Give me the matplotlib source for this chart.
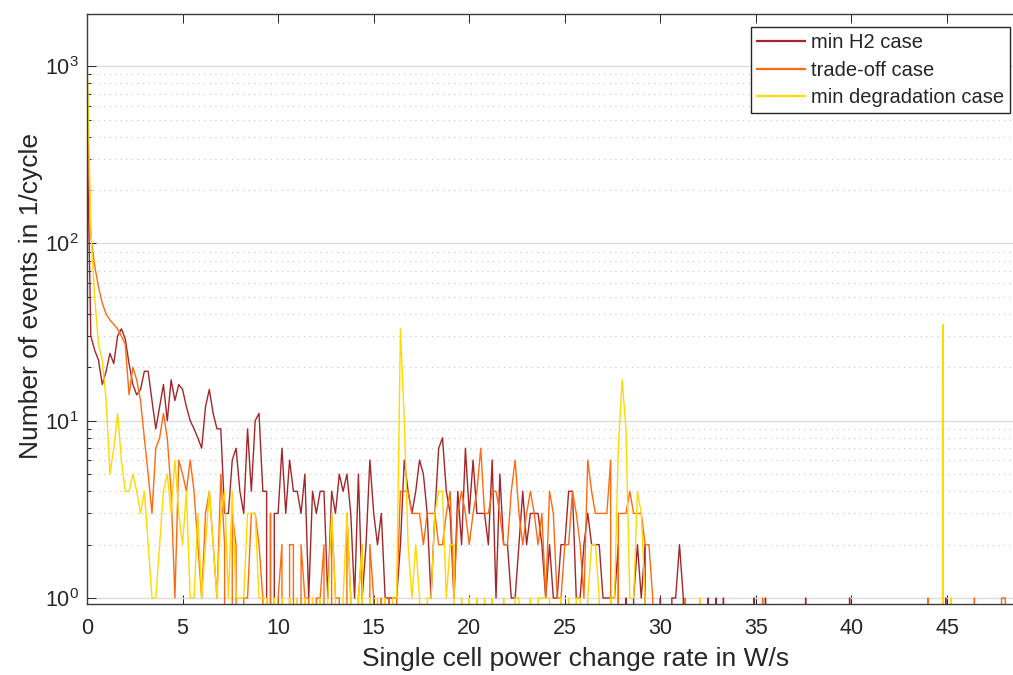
import matplotlib
matplotlib.use("Agg")
import matplotlib.pyplot as plt
from matplotlib.lines import Line2D
from matplotlib.ticker import LogLocator, MultipleLocator, NullFormatter
import numpy as np

# Histogram of single cell power change rates, one count per 0.2 W/s bin
# from 0 to 32 W/s; isolated events above that are listed separately.
BIN_WIDTH = 0.2

h2_counts = [
    480, 30, 25, 22, 16, 19, 24, 21, 30, 33,
    29, 21, 16, 14, 15, 19, 19, 13, 9, 12,
    16, 10, 17, 13, 16, 15, 12, 10, 9, 8,
    7, 12, 15, 11, 9, 9, 3, 3, 6, 7,
    4, 3, 9, 4, 10, 11, 4, 4, 0, 3,
    3, 7, 3, 6, 4, 4, 3, 5, 1, 4,
    3, 4, 4, 1, 4, 3, 5, 4, 5, 3,
    1, 5, 1, 2, 6, 3, 2, 3, 1, 1,
    1, 1, 2, 6, 4, 3, 4, 6, 5, 3,
    1, 3, 7, 8, 4, 3, 1, 4, 2, 7,
    3, 6, 3, 3, 3, 2, 6, 1, 5, 2,
    2, 1, 1, 2, 4, 2, 3, 3, 3, 2,
    1, 2, 1, 1, 2, 2, 4, 4, 1, 1,
    2, 3, 2, 2, 2, 1, 1, 1, 1, 2,
    0, 1, 0, 1, 2, 1, 2, 0, 0, 0,
    1, 0, 0, 1, 1, 2, 1, 0, 0, 0,
    0,
]

tradeoff_counts = [
    610, 110, 75, 57, 46, 40, 37, 35, 33, 30,
    27, 14, 20, 17, 13, 8, 5, 3, 7, 8,
    11, 8, 4, 1, 6, 5, 4, 6, 4, 2,
    1, 3, 4, 2, 1, 5, 2, 0, 3, 2,
    0, 1, 1, 3, 3, 2, 1, 0, 3, 0,
    1, 2, 0, 2, 2, 0, 2, 1, 1, 0,
    1, 1, 2, 0, 3, 1, 1, 0, 3, 1,
    0, 1, 2, 0, 2, 1, 0, 1, 0, 1,
    0, 1, 4, 4, 4, 3, 3, 3, 2, 3,
    3, 3, 2, 2, 3, 4, 1, 3, 4, 3,
    2, 3, 4, 7, 3, 3, 4, 4, 3, 2,
    2, 4, 6, 3, 2, 3, 4, 3, 2, 3,
    1, 4, 3, 1, 1, 2, 2, 4, 3, 2,
    1, 6, 4, 3, 3, 3, 3, 6, 0, 3,
    3, 3, 4, 3, 3, 3, 2, 2, 1, 0,
    0, 0, 0, 0, 0, 0, 0, 0, 0, 0,
    0,
]

degradation_counts = [
    1200, 120, 50, 27, 22, 13, 5, 7, 11, 6,
    4, 4, 5, 4, 3, 4, 2, 1, 1, 2,
    4, 5, 3, 6, 3, 2, 4, 1, 1, 3,
    1, 2, 4, 2, 1, 3, 4, 1, 4, 1,
    1, 1, 3, 3, 3, 1, 1, 1, 0, 1,
    0, 1, 0, 1, 0, 1, 0, 1, 0, 1,
    0, 1, 0, 1, 3, 1, 0, 1, 3, 1,
    0, 1, 2, 0, 1, 0, 1, 0, 1, 0,
    1, 1, 33, 10, 2, 1, 2, 1, 0, 1,
    1, 3, 4, 4, 1, 2, 2, 0, 1, 0,
    1, 0, 1, 0, 1, 0, 1, 0, 0, 1,
    0, 0, 1, 1, 0, 0, 1, 0, 1, 1,
    1, 1, 0, 0, 1, 0, 1, 0, 1, 1,
    0, 1, 2, 2, 1, 0, 0, 1, 1, 7,
    17, 9, 1, 1, 4, 3, 1, 0, 0, 0,
    0, 0, 0, 0, 0, 0, 0, 0, 0, 0,
    0,
]

# sparse events beyond 32 W/s (empty neighbouring bins given as 0)
h2_tail_x = [32.45, 32.5, 32.55, 32.85, 32.9, 32.95, 33.25, 33.3, 33.35,
             34.85, 34.9, 34.95, 35.45, 35.5, 35.55, 37.55, 37.6, 37.65,
             39.85, 39.9, 39.95, 44.88, 44.93, 44.98]
h2_tail_n = [0, 1, 0, 0, 1, 0, 0, 1, 0,
             0, 1, 0, 0, 1, 0, 0, 1, 0,
             0, 1, 0, 0, 1, 0]

tradeoff_tail_x = [31.25, 31.3, 31.35, 35.3, 35.35, 35.4, 43.95, 44.0, 44.05,
                   46.38, 46.43, 46.48, 47.8, 47.85, 48.05, 48.1]
tradeoff_tail_n = [0, 1, 0, 0, 1, 0, 0, 1, 0,
                   0, 1, 0, 0, 1, 1, 0]

degradation_tail_x = [32.02, 32.07, 32.12, 44.72, 44.76, 44.8, 44.84,
                      45.15, 45.2, 45.25]
degradation_tail_n = [0, 1, 0, 0, 15, 35, 0, 0, 1, 0]

CASES = ["min H2 case", "trade-off case", "min degradation case"]
COLORS = ["#A3262A", "#FF6A10", "#FFD900"]

TEXT = "#262626"
plt.rcParams.update({
    "font.family": ["Liberation Sans", "DejaVu Sans"],
    "mathtext.fontset": "custom",
    "mathtext.rm": "Liberation Sans",
    "mathtext.it": "Liberation Sans:italic",
    "font.size": 14,
})


def series(counts, tail_x, tail_n):
    x = np.arange(len(counts)) * BIN_WIDTH
    return (np.concatenate([x, tail_x]),
            np.concatenate([np.asarray(counts, float), tail_n]))


fig = plt.figure(figsize=(10.13, 6.75), dpi=100)
ax = fig.add_axes([87 / 1013, 1 - 604 / 675, 926 / 1013, 590 / 675])

data = [
    series(h2_counts, h2_tail_x, h2_tail_n),
    series(tradeoff_counts, tradeoff_tail_x, tradeoff_tail_n),
    series(degradation_counts, degradation_tail_x, degradation_tail_n),
]
for (x, y), color, label in zip(data, COLORS, CASES):
    ax.plot(x, y, color=color, lw=1.0, label=label)

ax.set_yscale("log", nonpositive="clip")
ax.set_xlim(0, 48.45)
ax.set_ylim(0.925, 1970)

ax.xaxis.set_major_locator(MultipleLocator(5))
ax.yaxis.set_major_locator(LogLocator(base=10, numticks=10))
ax.yaxis.set_minor_locator(LogLocator(base=10, subs=np.arange(2, 10), numticks=20))
ax.yaxis.set_minor_formatter(NullFormatter())

ax.tick_params(which="both", direction="in", top=True, right=False,
               color=TEXT, labelcolor=TEXT)
ax.tick_params(which="major", length=6.5, width=0.7, labelsize=15.5)
ax.tick_params(axis="x", which="major", pad=10)
ax.tick_params(axis="y", which="major", pad=6)
ax.tick_params(which="minor", length=3.2, width=0.7)

ax.grid(True, axis="y", which="major", color="#DCDCDC", lw=1.0, ls="-")
ax.grid(True, axis="y", which="minor", color="#C4C4C4", lw=0.8, ls=(0, (1, 4)))
ax.set_axisbelow(True)

for side in ("left", "bottom", "top"):
    ax.spines[side].set_color("#3A3A3A")
    ax.spines[side].set_linewidth(1.0)
ax.spines["right"].set_visible(False)

ax.set_xlabel("Single cell power change rate in W/s", fontsize=19,
              color=TEXT)
ax.set_ylabel("Number of events in 1/cycle", fontsize=19, color=TEXT)
ax.xaxis.set_label_coords(0.5275, -0.073)
ax.yaxis.set_label_coords(-0.047, 0.522)

handles = [Line2D([0], [0], color=c, lw=1.6) for c in COLORS]
leg = ax.legend(handles, CASES, loc="upper right",
                bbox_to_anchor=(0.997, 0.978), fontsize=14.5,
                frameon=True, fancybox=False, framealpha=1,
                edgecolor=TEXT, borderpad=0.3, labelspacing=0.43,
                handlelength=2.4, handletextpad=0.3, borderaxespad=0)
leg.get_frame().set_linewidth(1.0)
for t in leg.get_texts():
    t.set_color(TEXT)

fig.savefig("out.png", dpi=100)
